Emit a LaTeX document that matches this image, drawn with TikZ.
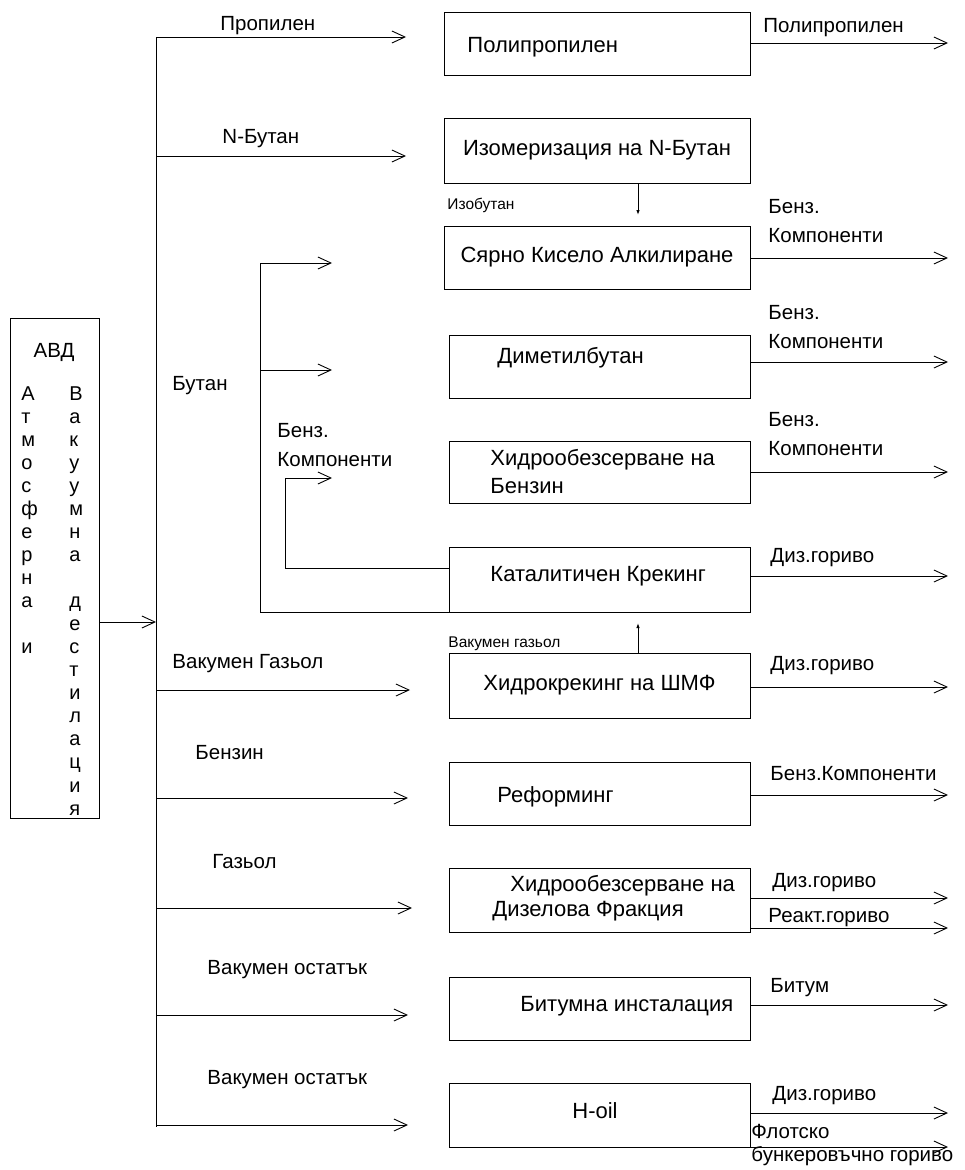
\documentclass[tikz,border=0pt]{standalone}
\usepackage{fontspec}
\setmainfont{Liberation Sans}
\usetikzlibrary{arrows.meta}

\newcommand{\lblfont}{\fontsize{20.5}{29}\selectfont}
\newcommand{\boxfont}{\fontsize{22}{28}\selectfont}
\newcommand{\tinyfont}{\fontsize{15.5}{18}\selectfont}

\begin{document}
\begin{tikzpicture}[x=1pt, y=-1pt, line width=0.9pt,
    box/.style={draw, anchor=north west, inner sep=0pt, outer sep=0pt, font=\boxfont},
    lbl/.style={anchor=base west, inner sep=0pt, align=left, font=\lblfont},
    inbox/.style={anchor=base west, inner sep=0pt, align=left, font=\boxfont},
    small/.style={anchor=base west, inner sep=0pt, font=\tinyfont},
    flow/.style={-{Straight Barb[length=13pt, width=12pt]}},
    feed/.style={-{Latex[length=5pt, width=3.5pt]}}]
        \useasboundingbox (0,0) rectangle (964,1170);

        % Nodes (multi-line texts sit on the baseline of their last line)
        \node[box, minimum width=89pt, minimum height=500pt] (avd) at (10,318) {};
        \node[anchor=base, inner sep=0pt, font=\lblfont] (avdt) at (54,357) {АВД};
        \node[anchor=base west, inner sep=0pt, align=left, font=\fontsize{20}{23.06}\selectfont] (atm) at (21,653.7)
            {А\\т\\м\\о\\с\\ф\\е\\р\\н\\а\\\mbox{}\\и};
        \node[anchor=base west, inner sep=0pt, align=left, font=\fontsize{20}{23.06}\selectfont] (vak) at (69,815.1)
            {В\\а\\к\\у\\у\\м\\н\\а\\\mbox{}\\д\\е\\с\\т\\и\\л\\а\\ц\\и\\я};

        \node[box, minimum width=306pt, minimum height=63pt] (poly) at (444,12) {};
        \node[inbox] (polyt) at (467,52) {Полипропилен};
        \node[box, minimum width=306pt, minimum height=65pt] (iso) at (444,118) {Изомеризация на N-Бутан};
        \node[box, minimum width=306pt, minimum height=63pt] (alky) at (444,226) {Сярно Кисело Алкилиране};
        \node[box, minimum width=301pt, minimum height=63pt] (dmb) at (449,335) {};
        \node[inbox] (dmbt) at (497,363) {Диметилбутан};
        \node[box, minimum width=301pt, minimum height=62pt] (hdsb) at (449,441) {};
        \node[inbox] (hdsbt) at (490,493) {Хидрообезсерване на\\Бензин};
        \node[box, minimum width=301pt, minimum height=65pt] (fcc) at (449,547) {};
        \node[inbox] (fcct) at (490,581) {Каталитичен Крекинг};
        \node[box, minimum width=301pt, minimum height=65pt] (hc) at (449,653) {Хидрокрекинг на ШМФ};
        \node[box, minimum width=301pt, minimum height=63pt] (ref) at (449,762) {};
        \node[inbox] (reft) at (497,802) {Реформинг};
        \node[box, minimum width=301pt, minimum height=64pt] (hdsd) at (449,868) {};
        \node[inbox, font=\fontsize{22}{25}\selectfont] (hdsdt) at (492,916) {\hspace*{18pt}Хидрообезсерване на\\Дизелова Фракция};
        \node[box, minimum width=301pt, minimum height=63pt] (bit) at (449,977) {};
        \node[inbox] (bitt) at (520,1011) {Битумна инсталация};
        \node[box, minimum width=301pt, minimum height=64pt] (hoil) at (449,1083) {};
        \node[anchor=base, inner sep=0pt, font=\boxfont] (hoilt) at (595,1118) {H-oil};

        % Labels
        \node[lbl] (l1) at (220,30) {Пропилен};
        \node[lbl] (l2) at (222,143) {N-Бутан};
        \node[lbl] (l3) at (172,390) {Бутан};
        \node[lbl] (l4) at (277,466) {Бенз.\\Компоненти};
        \node[lbl] (l5) at (172,668) {Вакумен Газьол};
        \node[lbl] (l6) at (195,759) {Бензин};
        \node[lbl] (l7) at (212,868) {Газьол};
        \node[lbl] (l8) at (207,974) {Вакумен остатък};
        \node[lbl] (l9) at (207,1084) {Вакумен остатък};
        \node[small] (s1) at (447,209) {Изобутан};
        \node[small] (s2) at (448,647) {Вакумен газьол};

        \node[lbl] (r1) at (763,32) {Полипропилен};
        \node[lbl] (r2) at (768,242) {Бенз.\\Компоненти};
        \node[lbl] (r3) at (768,348) {Бенз.\\Компоненти};
        \node[lbl] (r4) at (768,455) {Бенз.\\Компоненти};
        \node[lbl] (r5) at (770,562) {Диз.гориво};
        \node[lbl] (r6) at (770,670) {Диз.гориво};
        \node[lbl] (r7) at (770,780) {Бенз.Компоненти};
        \node[lbl] (r8) at (772,887) {Диз.гориво};
        \node[lbl] (r9) at (768,922) {Реакт.гориво};
        \node[lbl] (r10) at (770,992) {Битум};
        \node[lbl] (r11) at (772,1100) {Диз.гориво};
        \node[lbl, font=\fontsize{20.5}{23}\selectfont] (r12) at (751,1161) {Флотско\\бункеровъчно гориво};

        % Ends
        \coordinate (bustop) at (156,37);
        \coordinate (busbot) at (156,1127);
        \coordinate (join) at (156,622);
        \coordinate (pr) at (406,37);
        \coordinate (nb) at (406,156);
        \coordinate (vg) at (410,690);
        \coordinate (bn) at (408,798);
        \coordinate (gz) at (412,908);
        \coordinate (vo1) at (408,1015);
        \coordinate (vo2) at (408,1125);
        \coordinate (bt1) at (332,263);
        \coordinate (bt2) at (332,370);
        \coordinate (bcorner) at (260,612);
        \coordinate (bz) at (332,478);
        \coordinate (loop) at (285,568);
        \coordinate (isob) at (638,215);
        \coordinate (vgup) at (638,623);
        \coordinate (o1) at (948,43);
        \coordinate (o2) at (948,258);
        \coordinate (o3) at (948,362);
        \coordinate (o4) at (948,472);
        \coordinate (o5) at (948,576);
        \coordinate (o6) at (948,687);
        \coordinate (o7) at (948,795);
        \coordinate (o8) at (948,898);
        \coordinate (o9) at (948,928);
        \coordinate (o10) at (948,1005);
        \coordinate (o11) at (948,1113);
        \coordinate (o12) at (948,1147);

        % Edges
        \draw (bustop) -- (busbot);
        \draw[flow] (avd.east |- join) -- (join);
        \draw[flow] (bustop) -- (pr);
        \draw[flow] (bustop |- nb) -- (nb);
        \draw[flow] (bustop |- vg) -- (vg);
        \draw[flow] (bustop |- bn) -- (bn);
        \draw[flow] (bustop |- gz) -- (gz);
        \draw[flow] (bustop |- vo1) -- (vo1);
        \draw[flow] (bustop |- vo2) -- (vo2);

        \draw[flow] (fcc.south west) -- (bcorner) |- (bt1);
        \draw[flow] (bcorner |- bt2) -- (bt2);
        \draw[flow] (fcc.west |- loop) -- (loop) |- (bz);
        \draw[feed] (iso.south -| isob) -- (isob);
        \draw[feed] (hc.north -| vgup) -- (vgup);

        \draw[flow] (poly.east |- o1) -- (o1);
        \draw[flow] (alky.east |- o2) -- (o2);
        \draw[flow] (dmb.east |- o3) -- (o3);
        \draw[flow] (hdsb.east |- o4) -- (o4);
        \draw[flow] (fcc.east |- o5) -- (o5);
        \draw[flow] (hc.east |- o6) -- (o6);
        \draw[flow] (ref.east |- o7) -- (o7);
        \draw[flow] (hdsd.east |- o8) -- (o8);
        \draw[flow] (hdsd.east |- o9) -- (o9);
        \draw[flow] (bit.east |- o10) -- (o10);
        \draw[flow] (hoil.east |- o11) -- (o11);
        \draw[flow] (hoil.east |- o12) -- (o12);
    \end{tikzpicture}
\end{document}
